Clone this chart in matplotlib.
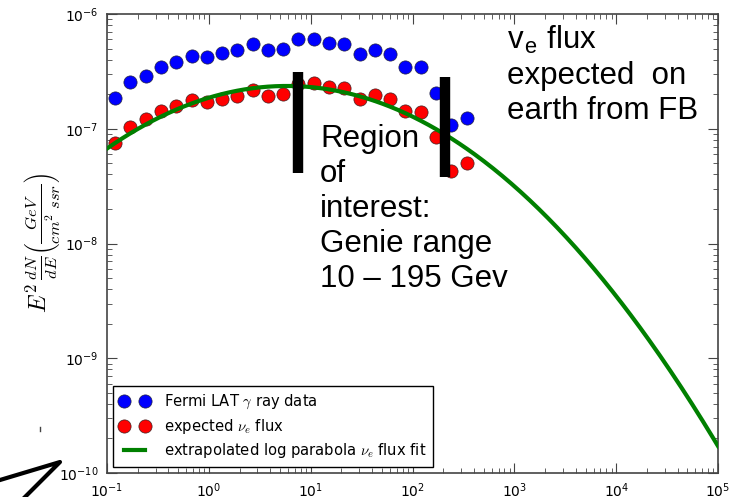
"""Expected nu_e flux from the Fermi bubbles, with log-parabola extrapolation."""

import matplotlib

matplotlib.use("Agg")
import matplotlib.pyplot as plt
import numpy as np
from matplotlib.lines import Line2D

plt.rcParams["mathtext.fontset"] = "cm"
plt.rcParams["font.family"] = ["DejaVu Sans"]

# energies (GeV) of the data points
energy = [0.120, 0.170, 0.240, 0.339, 0.479, 0.676, 0.955, 1.35, 1.91, 2.69,
          3.80, 5.37, 7.59, 10.7, 15.1, 21.4, 30.2, 42.7, 60.3, 85.1,
          120.0, 170.0, 240.0, 339.0]

# Fermi LAT gamma ray data, E^2 dN/dE
fermi_flux = [1.84e-7, 2.57e-7, 2.88e-7, 3.48e-7, 3.82e-7, 4.33e-7, 4.20e-7,
              4.55e-7, 4.86e-7, 5.44e-7, 4.86e-7, 4.92e-7, 6.02e-7, 6.02e-7,
              5.62e-7, 5.48e-7, 4.48e-7, 4.86e-7, 4.45e-7, 3.48e-7, 3.48e-7,
              2.04e-7, 1.08e-7, 1.23e-7]

# expected nu_e flux
nue_flux = [7.46e-8, 1.04e-7, 1.21e-7, 1.43e-7, 1.58e-7, 1.78e-7, 1.72e-7,
            1.82e-7, 1.94e-7, 2.18e-7, 1.94e-7, 2.00e-7, 2.44e-7, 2.52e-7,
            2.30e-7, 2.25e-7, 1.82e-7, 1.97e-7, 1.82e-7, 1.43e-7, 1.41e-7,
            8.41e-8, 4.31e-8, 5.00e-8]

# log parabola fit parameters (peak energy, peak flux, curvature in log10 space)
fit_e_peak = 5.82
fit_flux_peak = 2.36e-7
fit_curvature = 0.175

# region-of-interest markers: (energy, flux low, flux high)
roi_bars = [(7.5, 4.14e-8, 3.14e-7), (208.0, 3.82e-8, 2.84e-7)]

fig = plt.figure(figsize=(7.3, 4.97), dpi=100)
ax = fig.add_axes([0.1466, 0.0483, 0.8370, 0.9235])

e_fit = np.logspace(-1, 5, 400)
flux_fit = fit_flux_peak * 10 ** (-fit_curvature * np.log10(e_fit / fit_e_peak) ** 2)

ax.plot(energy, fermi_flux, "o", color="b", ms=9.5, mec="#202040", mew=0.5,
        label=r"Fermi LAT $\gamma$ ray data", zorder=3)
ax.plot(energy, nue_flux, "o", color="r", ms=9.5, mec="#402020", mew=0.5,
        label=r"expected $\nu_e$ flux", zorder=3)
ax.plot(e_fit, flux_fit, "-", color="g", lw=3,
        label=r"extrapolated log parabola $\nu_e$ flux fit", zorder=4)

for e_bar, lo, hi in roi_bars:
    ax.plot([e_bar, e_bar], [lo, hi], "-", color="k", lw=7.5,
            solid_capstyle="butt", zorder=5)

ax.set_xscale("log")
ax.set_yscale("log")
ax.set_xlim(1e-1, 1e5)
ax.set_ylim(1e-10, 1e-6)

ax.tick_params(which="both", direction="in", top=True, right=True,
               labelsize=10, color="#444444")
ax.tick_params(which="major", length=7, width=0.8, pad=6)
ax.tick_params(which="minor", length=3.5, width=0.6)
for sp in ax.spines.values():
    sp.set_color("#444444")
    sp.set_linewidth(1.2)

ax.set_ylabel(r"$E^2\,\frac{dN}{dE}\left(\frac{GeV}{cm^2\ ssr}\right)$",
              fontsize=17, labelpad=-2)

leg = ax.legend(loc="lower left", numpoints=2, fontsize=10.6, fancybox=False,
                framealpha=1, edgecolor="black", borderpad=0.45,
                handlelength=2.0, handletextpad=1.0, labelspacing=0.38,
                borderaxespad=0, bbox_to_anchor=(0.01, 0.013))
leg.get_frame().set_linewidth(1.0)

fig.text(320 / 730, 1 - 124 / 497,
         "Region\nof\ninterest:\nGenie range\n10 \u2013 195 Gev",
         fontsize=22.5, family="Liberation Sans", linespacing=1.22,
         va="top", ha="left", zorder=6)
fig.text(507 / 730, 1 - 24 / 497,
         "v$_\\mathregular{e}$ flux\nexpected  on\nearth from FB",
         fontsize=22.5, family="Liberation Sans", linespacing=1.2,
         va="top", ha="left")

# stray strokes at the bottom left of the original screenshot
fig.add_artist(Line2D([0 / 730, 60 / 730, 22 / 730],
                      [1 - 480 / 497, 1 - 462 / 497, 1 - 500 / 497],
                      color="k", lw=3))
fig.add_artist(Line2D([40 / 730, 40 / 730], [1 - 427 / 497, 1 - 431 / 497],
                      color="#444444", lw=1))

fig.savefig("out.png", dpi=100)
